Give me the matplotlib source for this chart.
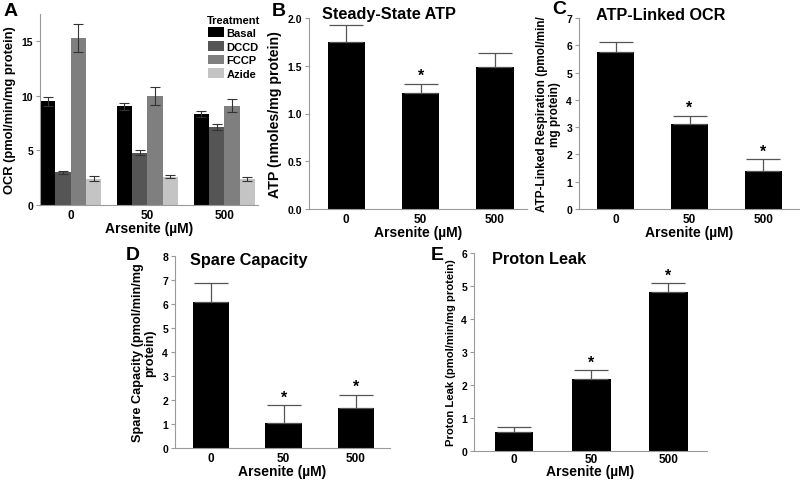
import matplotlib.pyplot as plt
import numpy as np

plt.rcParams['font.family'] = ['Liberation Sans', 'DejaVu Sans']
plt.rcParams['font.weight'] = 'bold'

doses = ['0', '50', '500']
treatments = ['Basal', 'DCCD', 'FCCP', 'Azide']
ocr = {
    'Basal': [9.5, 9.05, 8.35],
    'DCCD': [3.0, 4.8, 7.15],
    'FCCP': [15.3, 10.0, 9.1],
    'Azide': [2.4, 2.6, 2.35],
}
ocr_err = {
    'Basal': [0.4, 0.3, 0.28],
    'DCCD': [0.15, 0.22, 0.3],
    'FCCP': [1.25, 0.85, 0.6],
    'Azide': [0.22, 0.15, 0.17],
}
ocr_colors = ['#000000', '#555555', '#7f7f7f', '#c4c4c4']

atp = [1.75, 1.21, 1.49]
atp_err = [0.18, 0.10, 0.14]
atp_sig = [False, True, False]

linked = [5.75, 3.12, 1.40]
linked_err = [0.37, 0.30, 0.42]
linked_sig = [False, True, True]

spare = [6.07, 1.05, 1.65]
spare_err = [0.80, 0.73, 0.55]
spare_sig = [False, True, True]

leak = [0.58, 2.18, 4.82]
leak_err = [0.14, 0.26, 0.26]
leak_sig = [False, True, True]

W, H = 800, 481
fig = plt.figure(figsize=(8, 4.81), dpi=100)


def make_ax(left, right, bottom, top):
    return fig.add_axes([left / W, (H - bottom) / H, (right - left) / W, (bottom - top) / H])


def style(ax, xpad=3, labelpad=0):
    for s in ['top', 'right']:
        ax.spines[s].set_visible(False)
    for s in ['left', 'bottom']:
        ax.spines[s].set_color('#9a9a9a')
        ax.spines[s].set_linewidth(0.8)
    ax.tick_params(axis='y', length=3, color='#9a9a9a', labelsize=7.5, pad=2)
    ax.tick_params(axis='x', length=0, labelsize=8.5, pad=xpad)
    for lab in ax.get_xticklabels() + ax.get_yticklabels():
        lab.set_fontweight('bold')
    ax.set_xlabel('Arsenite (µM)', fontsize=10, fontweight='bold', labelpad=labelpad)


# Panel A
axA = make_ax(40, 258, 206, 15)
x = np.arange(len(doses))
bw = 0.2
for i, t in enumerate(treatments):
    axA.bar(x - 0.3 + i * bw, ocr[t], bw, color=ocr_colors[i], label=t,
            yerr=ocr_err[t], capsize=3.5, error_kw=dict(ecolor='#333333', elinewidth=0.8, capthick=0.8))
axA.set_xlim(-0.4, 2.44)
axA.set_ylim(0, 17.5)
axA.set_yticks([0, 5, 10, 15])
axA.set_xticks(x)
axA.set_xticklabels(doses)
style(axA)
axA.set_ylabel('OCR (pmol/min/mg protein)', fontsize=9.3, fontweight='bold', labelpad=4)
leg = axA.legend(title='Treatment', loc='upper right', bbox_to_anchor=(1.03, 1.02), frameon=False,
                 fontsize=8, title_fontsize=8, handlelength=1.45, handleheight=1.0,
                 handletextpad=0.25, labelspacing=0.25, borderaxespad=0)
leg.get_title().set_fontweight('bold')
for txt in leg.get_texts():
    txt.set_fontweight('bold')


def single(ax, vals, errs, sig, ymax, yticks, ylabel, ylabel_fs, xlim, xpad=3, labelpad=0):
    xs = np.arange(len(doses))
    ax.bar(xs, vals, 0.5, color='black')
    ax.errorbar(xs, vals, yerr=[np.zeros(len(vals)), errs], fmt='none', ecolor='#555555',
                elinewidth=0.9, capsize=12, capthick=0.9)
    for xi, v, e, s in zip(xs, vals, errs, sig):
        if s:
            ax.text(xi, v + e + ymax * 0.005, '*', ha='center', va='bottom', fontsize=11.5, fontweight='bold')
    ax.set_xlim(*xlim)
    ax.set_ylim(0, ymax)
    ax.set_yticks(yticks)
    ax.set_xticks(xs)
    ax.set_xticklabels(doses)
    style(ax, xpad, labelpad)
    ax.set_ylabel(ylabel, fontsize=ylabel_fs, fontweight='bold', labelpad=4, linespacing=1.05)


axB = make_ax(309, 527, 210, 19)
single(axB, atp, atp_err, atp_sig, 2.0, [0, 0.5, 1.0, 1.5, 2.0],
       'ATP (nmoles/mg protein)', 10.2, (-0.5, 2.43))
axB.set_yticklabels(['0.0', '0.5', '1.0', '1.5', '2.0'])
for lab in axB.get_yticklabels():
    lab.set_fontweight('bold')

axC = make_ax(579, 800, 210, 19)
single(axC, linked, linked_err, linked_sig, 7, range(8),
       'ATP-Linked Respiration (pmol/min/\nmg protein)', 8.5, (-0.5, 2.5))

axD = make_ax(175, 390, 449, 257)
single(axD, spare, spare_err, spare_sig, 8, range(9),
       'Spare Capacity (pmol/min/mg\nprotein)', 9.2, (-0.5, 2.47))

axE = make_ax(474, 707, 452, 254)
single(axE, leak, leak_err, leak_sig, 6, range(7),
       'Proton Leak (pmol/min/mg protein)', 8.1, (-0.52, 2.5), xpad=1.5, labelpad=-1)

# panel titles
for tx, ty, title in [(322, 15, 'Steady-State ATP'), (596, 16, 'ATP-Linked OCR'),
                      (190, 260, 'Spare Capacity'), (492, 260, 'Proton Leak')]:
    fig.text(tx / W, 1 - ty / H, title, fontsize=11.7, fontweight='bold', ha='left', va='center')

# panel letters
for lx, ly, letter in [(4, 12, 'A'), (272, 12, 'B'), (552, 10, 'C'), (126, 256, 'D'), (431, 256, 'E')]:
    fig.text(lx / W, 1 - ly / H, letter, fontsize=14, fontweight='bold', ha='left', va='center')

fig.savefig('out.png', dpi=100)
